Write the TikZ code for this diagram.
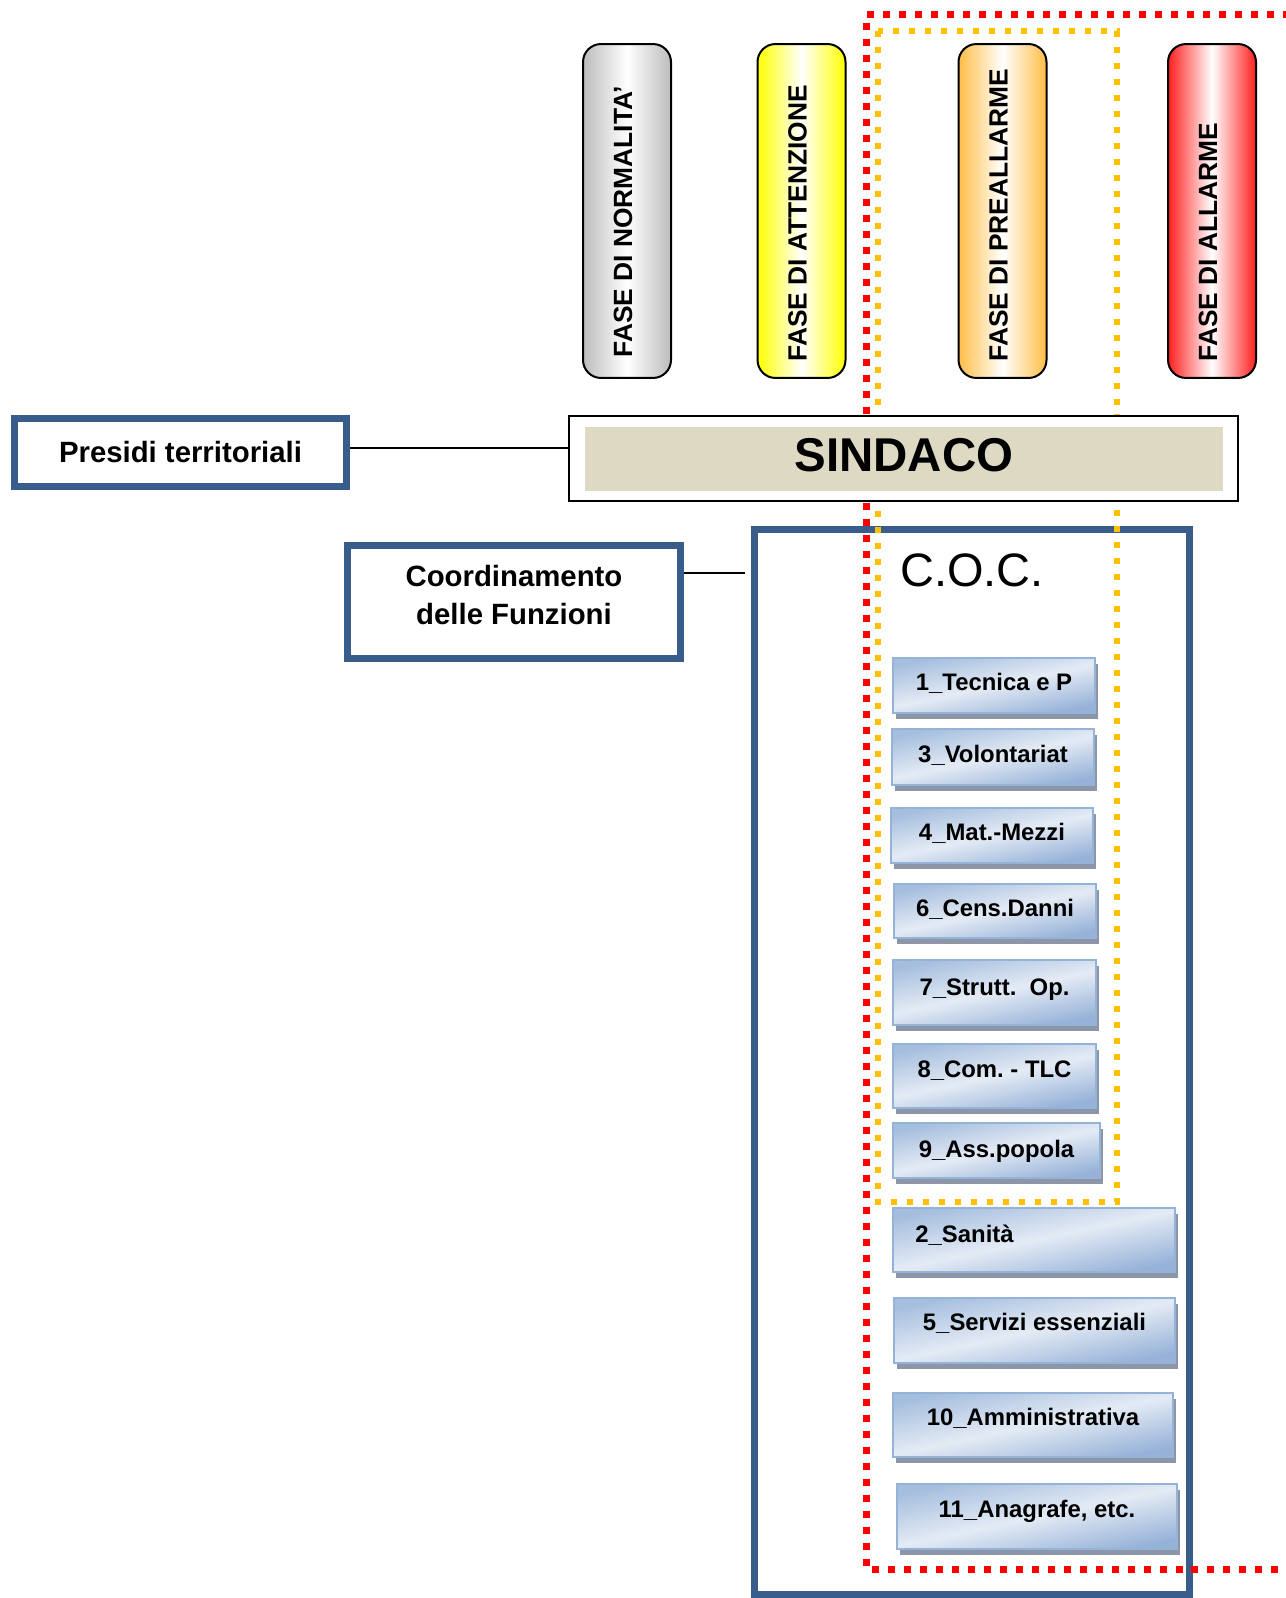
\documentclass[tikz,border=0pt]{standalone}
\usepackage{fontspec}
\setmainfont{Liberation Sans}
\usepackage{tikz}
\usetikzlibrary{shadows}
\definecolor{cocblue}{RGB}{56,93,138}
\definecolor{sindtan}{RGB}{221,217,195}
\definecolor{funline}{RGB}{149,179,215}
\definecolor{funtop}{RGB}{165,190,222}
\definecolor{funmid}{RGB}{228,235,245}
\definecolor{funbot}{RGB}{150,178,216}
\definecolor{funshadow}{RGB}{140,150,168}
\definecolor{dotorange}{RGB}{255,192,0}
\definecolor{dotred}{RGB}{255,0,0}
\definecolor{pillgrey}{RGB}{188,188,188}
\definecolor{pillyellow}{RGB}{255,255,0}
\definecolor{pillorange}{RGB}{255,190,70}
\definecolor{pillred}{RGB}{255,30,30}
% funzione: name, x1, y1, x2, y2, y of label, label
\def\FUN#1#2#3#4#5#6#7{\path[funbox] (#2,#3) rectangle (#4,#5);
  \node[funtext] (#1) at ({(#2+#4)/2},#6) {#7};}

\begin{document}
\begin{tikzpicture}[x=0.02cm,y=-0.02cm,
  bluebox/.style={draw=cocblue,line width=0.14cm,fill=white,inner sep=0},
  funbox/.style={draw=funline,line width=0.04cm,top color=funtop,bottom color=funbot,
    middle color=funmid,shading angle=12,
    drop shadow={shadow xshift=0.06cm,shadow yshift=-0.12cm,fill=funshadow,opacity=1}},
  funtext/.style={inner sep=0,text height=0.9em,text depth=0.18em,
    font=\bfseries\fontsize{13.6}{16}\selectfont},
  pill/.style={draw=black,line width=0.04cm,rounded corners=0.36cm,
    minimum width=1.76cm,minimum height=6.68cm,inner sep=0},
  phase/.style={rotate=90,anchor=west,inner sep=0,font=\bfseries\fontsize{15}{18}\selectfont}]
\useasboundingbox (0,0) rectangle (1285,1598);

\node[bluebox,fill=none,minimum width=8.72cm,minimum height=21.32cm] (coc) at (972,1062) {};
\node[anchor=west,inner sep=0,font=\fontsize{26.7}{30}\selectfont] (coct) at (900,570) {C.O.C.};

% fasi
\draw[dotred,line width=0.14cm,dash pattern=on 0.14cm off 0.18cm] (1290,15) -- (866,15) -- (866,1569) -- (1290,1569);
\draw[dotorange,line width=0.12cm,dash pattern=on 0.12cm off 0.2cm] (878,31) rectangle (1117,1202);
\foreach \x/\yb/\c/\t/\n in {627/358/pillgrey/FASE DI NORMALITA’/norm,
    801.5/362/pillyellow/FASE DI ATTENZIONE/att,
    1002.5/362/pillorange/FASE DI PREALLARME/pre,
    1212/362/pillred/FASE DI ALLARME/all}
{
  \node[pill,left color=\c,right color=\c,middle color=white] (p\n) at (\x,211) {};
  \node[phase] (t\n) at (\x-4,\yb) {\t};
}

\node[draw=black,fill=white,line width=0.04cm,minimum width=13.38cm,minimum height=1.7cm,inner sep=0] (sind) at (903.5,458.5) {};
\node[fill=sindtan,minimum width=12.76cm,minimum height=1.28cm,inner sep=0,text depth=0.18cm,
  font=\bfseries\fontsize{27}{30}\selectfont] (sindt) at (904,459) {SINDACO};

\node[bluebox,minimum width=6.64cm,minimum height=1.36cm,
  font=\bfseries\fontsize{16.7}{20}\selectfont] (pres) at (180.5,452.5) {Presidi territoriali};
\node[bluebox,minimum width=6.66cm,minimum height=2.26cm,align=center,text depth=0.28cm,
  font=\bfseries\fontsize{16.7}{21.9}\selectfont] (coord) at (514,602) {Coordinamento\\delle Funzioni};

\coordinate (pl) at ([yshift=0.09cm]pres.east);
\draw[line width=0.04cm] (pl) -- (pl -| sind.west);
\coordinate (cl) at ([yshift=0.58cm]coord.east);
\coordinate (cr) at ([xshift=-0.12cm]coc.west);
\draw[line width=0.04cm] (cl) -- (cl -| cr);

\FUN{f1}{893}{658}{1095}{713}{684}{1\_Tecnica e P}
\FUN{f3}{892}{729}{1094}{785}{756}{3\_Volontariat}
\FUN{f4}{891}{808}{1093}{863}{834}{4\_Mat.-Mezzi}
\FUN{f6}{894}{884}{1096}{938}{910}{6\_Cens.Danni}
\FUN{f7}{893}{960}{1096}{1025}{989}{7\_Strutt.\ \ Op.}
\FUN{f8}{893}{1044}{1096}{1108}{1071}{8\_Com.\ - TLC}
\FUN{f9}{893}{1123}{1100}{1178}{1151}{9\_Ass.popola}
\path[funbox] (893,1208) rectangle (1175,1272);
\node[funtext,anchor=west] (f2) at (915,1236) {2\_Sanità};
\FUN{f5}{894}{1298}{1175}{1363}{1324}{5\_Servizi essenziali}
\FUN{f10}{893}{1393}{1173}{1457}{1419}{10\_Amministrativa}
\FUN{f11}{897}{1484}{1177}{1549}{1511}{11\_Anagrafe, etc.}
\end{tikzpicture}
\end{document}
